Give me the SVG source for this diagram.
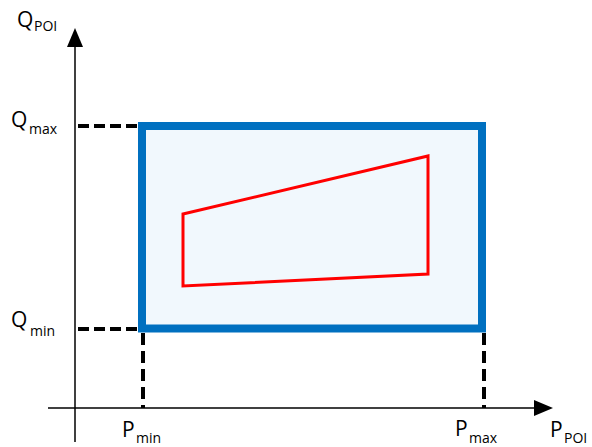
<svg xmlns="http://www.w3.org/2000/svg" width="592" height="447" viewBox="0 0 592 447">
<style>
.lbl{font-family:"Open Sans","Noto Sans","Liberation Sans",sans-serif;font-size:21px;fill:#000}
.sub{font-family:"Open Sans","Noto Sans","Liberation Sans",sans-serif;font-size:14px;fill:#000}
.axis{stroke:#000;stroke-width:1.5;fill:none}
.dash{stroke:#000;stroke-width:4;stroke-dasharray:11 5;fill:none}
.vdash{stroke:#000;stroke-width:4;stroke-dasharray:12 6;fill:none}
</style>
<rect width="592" height="447" fill="#fff"/>
<g id="connectors">
<line class="axis" x1="75" y1="442" x2="75" y2="46"/>
<path d="M67,47 L75,28 L83,47 Z" fill="#000"/>
<line class="axis" x1="48" y1="408" x2="535" y2="408"/>
<path d="M534,400 L553,408 L534,416 Z" fill="#000"/>
<line class="dash" x1="78" y1="126" x2="138" y2="126"/>
<line class="dash" x1="78" y1="329" x2="138" y2="329"/>
<line class="vdash" x1="143" y1="333" x2="143" y2="408"/>
<line class="vdash" x1="484" y1="333" x2="484" y2="408"/>
</g>
<g id="box">
<rect x="142" y="126" width="340" height="202.5" fill="#F1F8FD" stroke="#0070C0" stroke-width="8"/>
</g>
<g id="region">
<polygon points="183,214 428,156 428,274 183,286" fill="none" stroke="#FF0000" stroke-width="3"/>
</g>
<g id="labels">
<text class="lbl" x="17" y="27">Q</text><text class="sub" x="34" y="31">POI</text>
<text class="lbl" x="11" y="127">Q</text><text class="sub" x="29" y="134">max</text>
<text class="lbl" x="11" y="327">Q</text><text class="sub" x="30" y="336">min</text>
<text class="lbl" x="122" y="437">P</text><text class="sub" x="136" y="443">min</text>
<text class="lbl" x="455" y="436">P</text><text class="sub" x="469" y="443">max</text>
<text class="lbl" x="550" y="437">P</text><text class="sub" x="564" y="443">POI</text>
</g>
</svg>
